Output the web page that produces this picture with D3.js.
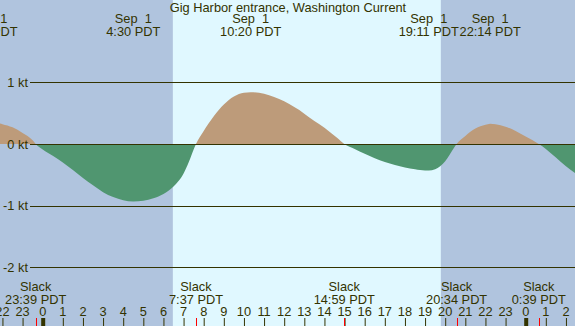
<!DOCTYPE html>
<html lang="en">
<head>
<meta charset="utf-8">
<script src="https://d3js.org/d3.v7.min.js"></script>
<style>
  body { margin: 0; }
  svg { display: block; font-family: "Liberation Sans", Arial, sans-serif; }
  text { white-space: pre; }
</style>
</head>
<body>
<div id="chart"></div>
<script>
// hours from Sep 1 00:00 PDT
const times  = [-3, -2.77, -2.5, -2, -1.5, -1, -0.5, -0.35, 0, 0.5, 1, 1.5, 2, 2.5, 3, 3.5, 4, 4.5, 5, 5.5, 6, 6.5, 7, 7.25, 7.617,
                8, 8.5, 9, 9.5, 10, 10.333, 10.75, 11.25, 11.75, 12.25, 12.75, 13.25, 13.75, 14.25, 14.625, 14.983,
                15.5, 16, 16.5, 17, 17.5, 18, 18.5, 19, 19.183, 19.5, 19.75, 20, 20.25, 20.567,
                21, 21.5, 22, 22.233, 22.5, 23, 23.5, 24, 24.65, 25, 25.5, 26, 26.5];
const speeds = [0.36, 0.37, 0.36, 0.32, 0.27, 0.18, 0.06, 0, -0.09, -0.19, -0.30, -0.42, -0.55, -0.67, -0.78, -0.86, -0.91, -0.93, -0.92, -0.88, -0.81, -0.69, -0.48, -0.30, 0,
                0.21, 0.45, 0.64, 0.77, 0.83, 0.84, 0.83, 0.79, 0.73, 0.65, 0.55, 0.43, 0.32, 0.20, 0.10, 0,
                -0.08, -0.16, -0.23, -0.29, -0.34, -0.38, -0.41, -0.43, -0.43, -0.41, -0.36, -0.28, -0.16, 0,
                0.13, 0.25, 0.31, 0.33, 0.32, 0.28, 0.21, 0.12, 0, -0.08, -0.22, -0.36, -0.48];

const maxTimes  = [-2.77, 4.5, 10.333, 19.183, 22.233];
const maxDates  = ["Aug 31", "Sep  1", "Sep  1", "Sep  1", "Sep  1"];
const maxLabels = ["21:14 PDT", "4:30 PDT", "10:20 PDT", "19:11 PDT", "22:14 PDT"];

const slackTimes  = [-0.35, 7.617, 14.983, 20.567, 24.65];
const slackLabels = ["23:39 PDT", "7:37 PDT", "14:59 PDT", "20:34 PDT", "0:39 PDT"];

const sunrise = 6.467, sunset = 19.783;
const ktTicks = [1, 0, -1, -2];
const hourTicks = d3.range(-2, 27);

const width = 575, height = 326;
const ink = "#333300";
const fs = 12.8;

const x = d3.scaleLinear().domain([-42.7 / 20.125, (575 - 42.7) / 20.125]).range([0, width]);
const y = d3.scaleLinear().domain([-2, 1]).range([267.4, 82.3]);

const svg = d3.select("#chart").append("svg")
    .attr("width", width).attr("height", height);

// night / day background
svg.append("rect").attr("width", width).attr("height", height).attr("fill", "#b0c4de");
svg.append("rect")
    .attr("x", x(sunrise)).attr("width", x(sunset) - x(sunrise))
    .attr("y", 0).attr("height", height)
    .attr("fill", "#e0f8ff");

const pts = times.map((t, i) => [t, speeds[i]]);
const area = d3.area()
    .x(d => x(d[0])).y0(y(0)).y1(d => y(d[1]))
    .curve(d3.curveMonotoneX);

const defs = svg.append("defs");
defs.append("clipPath").attr("id", "above")
  .append("rect").attr("x", 0).attr("y", 0).attr("width", width).attr("height", y(0));
defs.append("clipPath").attr("id", "below")
  .append("rect").attr("x", 0).attr("y", y(0)).attr("width", width).attr("height", height - y(0));

svg.append("path").datum(pts).attr("d", area)
    .attr("fill", "#bd9b7a").attr("clip-path", "url(#above)");
svg.append("path").datum(pts).attr("d", area)
    .attr("fill", "#509670").attr("clip-path", "url(#below)");

// knot lines
svg.selectAll(".kt").data(ktTicks).join("line")
    .attr("x1", 30).attr("x2", width)
    .attr("y1", d => Math.round(y(d)) + 0.5).attr("y2", d => Math.round(y(d)) + 0.5)
    .attr("stroke", ink).attr("stroke-width", 1);
svg.selectAll(".ktl").data(ktTicks).join("text")
    .attr("x", 28).attr("y", d => y(d) + 4.5)
    .attr("text-anchor", "end").attr("font-size", fs).attr("fill", ink)
    .text(d => d + " kt");

// title
svg.append("text").attr("x", 288).attr("y", 12)
    .attr("text-anchor", "middle").attr("font-size", fs).attr("fill", ink)
    .text("Gig Harbor entrance, Washington Current");

// max current labels
const topG = svg.append("g").attr("font-size", fs).attr("fill", ink).attr("text-anchor", "middle");
topG.selectAll(".d").data(maxTimes).join("text")
    .attr("x", d => x(d)).attr("y", 23).text((d, i) => maxDates[i]);
topG.selectAll(".t").data(maxTimes).join("text")
    .attr("x", d => x(d)).attr("y", 36).text((d, i) => maxLabels[i]);

// slack labels
const botG = svg.append("g").attr("font-size", fs).attr("fill", ink).attr("text-anchor", "middle");
botG.selectAll(".s").data(slackTimes).join("text")
    .attr("x", d => x(d)).attr("y", 291).text("Slack");
botG.selectAll(".st").data(slackTimes).join("text")
    .attr("x", d => x(d)).attr("y", 304).text((d, i) => slackLabels[i]);

// hour axis
const axis = svg.append("g").attr("transform", `translate(0,318)`)
    .call(d3.axisBottom(x).tickValues(hourTicks).tickSize(8).tickFormat(""));
axis.select(".domain").remove();
axis.selectAll(".tick line").attr("stroke", ink)
    .attr("stroke-width", d => (((d % 24) + 24) % 24 === 0 ? 4 : 1));
botG.selectAll(".h").data(hourTicks).join("text")
    .attr("x", d => x(d)).attr("y", 316)
    .text(d => ((d % 24) + 24) % 24);

// slack ticks
svg.selectAll(".sl").data(slackTimes).join("line")
    .attr("x1", d => Math.round(x(d)) + 0.5).attr("x2", d => Math.round(x(d)) + 0.5)
    .attr("y1", 318).attr("y2", 326)
    .attr("stroke", "red").attr("stroke-width", 1);
</script>
</body>
</html>
